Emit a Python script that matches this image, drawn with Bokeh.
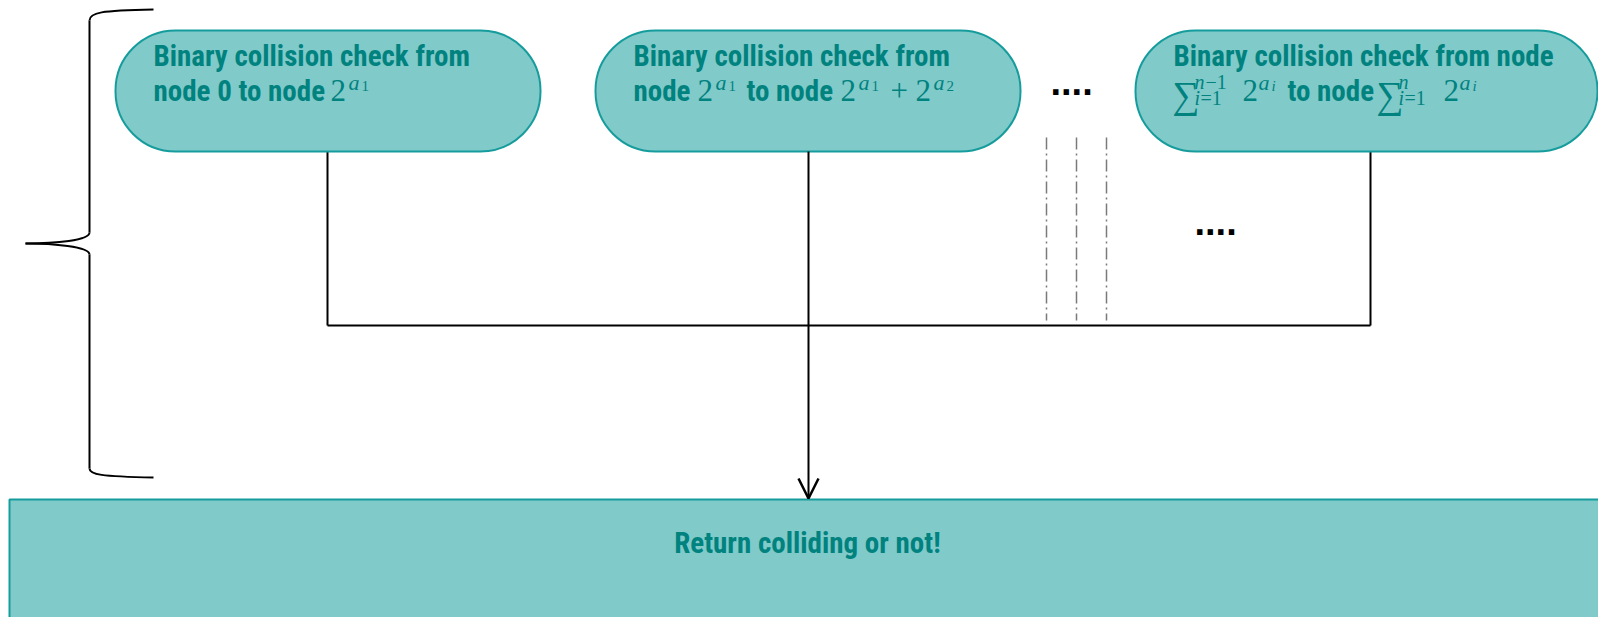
from bokeh.plotting import figure
from bokeh.models import Range1d, ColumnDataSource, Arrow, OpenHead
from bokeh.core.properties import value, field
from bokeh.embed import file_html
from bokeh.resources import INLINE

# ---- content ----
box_line1 = ["Binary collision check from", "Binary collision check from", "Binary collision check from node"]
box_line2_text = ["node 0 to node", "node", "to node", "to node"]
result_label = ["Return colliding or not!"]
ellipsis = ["....", "...."]

# math fragments (text, style)
math_text = ["2", "a", "1",
             "2", "a", "1", "2", "a", "1", "+", "2", "a", "2",
             "∑", "n", "−1", "i", "=1", "2", "a", "i",
             "∑", "n", "i", "=1", "2", "a", "i"]
math_style = ["normal", "italic", "normal",
              "normal", "italic", "normal", "normal", "italic", "normal", "normal", "normal", "italic", "normal",
              "normal", "italic", "normal", "italic", "normal", "normal", "italic", "italic",
              "normal", "italic", "italic", "normal", "normal", "italic", "italic"]

# ---- layout (screen pixels) ----
W, H = 1598, 617
TEAL_FILL = "#80CACA"
TEAL_LINE = "#169C9C"
TEAL_TEXT = "#00827F"
FONT = "Roboto Condensed, Liberation Sans Narrow, Arial Narrow, Roboto"
MATH_FONT = "Liberation Serif"
DY = -12  # baseline correction for text placement

box_left = [115, 595, 1135]
box_right = [540, 1020, 1597]
box_top, box_bottom = 30, 151
text_x1 = [153, 633, 1173]
base1, base2 = 67 + DY, 102 + DY

line2_x = [153, 633, 746, 1287]
math_x = [330, 348, 361,
          697, 715, 728, 840, 858, 871, 890, 915, 933, 946,
          1172, 1194, 1205, 1194, 1200, 1242, 1258, 1271,
          1376, 1398, 1398, 1404, 1443, 1459, 1472]
math_y = [102, 94, 97,
          102, 94, 97, 102, 94, 97, 102, 102, 94, 97,
          106, 93, 93, 109, 109, 102, 94, 97,
          106, 93, 109, 109, 102, 94, 97]
math_y = [v + DY for v in math_y]
math_size = ["31px", "22px", "15px",
             "31px", "22px", "15px", "31px", "22px", "15px", "31px", "31px", "22px", "15px",
             "38px", "20px", "20px", "20px", "20px", "31px", "22px", "15px",
             "38px", "20px", "20px", "20px", "31px", "22px", "15px"]

p = figure(width=W, height=H, x_range=Range1d(0, W), y_range=Range1d(H, 0),
           output_backend="svg", toolbar_location=None, min_border=0)
p.axis.visible = False
p.grid.visible = False
p.outline_line_color = None
p.background_fill_color = "white"

# left brace
bx = dict(line_color="black", line_width=2)
p.bezier(x0=[153, 89, 25, 89], y0=[9, 232, 243, 468],
         x1=[89, 25, 89, 153], y1=[20, 243, 254, 477],
         cx0=[100, 89, 52, 89], cy0=[10, 240, 243, 474],
         cx1=[89, 55, 89, 100], cy1=[12, 243, 246, 476], **bx)
p.segment(x0=[89, 89], y0=[20, 254], x1=[89, 89], y1=[232, 468], **bx)

# bottom result box
p.quad(left=[9], right=[W + 40], top=[499], bottom=[H + 40],
       fill_color=TEAL_FILL, line_color=TEAL_LINE, line_width=2)

# connectors
p.segment(x0=[327, 1370, 327], y0=[box_bottom, box_bottom, 325],
          x1=[327, 1370, 1370], y1=[325, 325, 325], line_color="black", line_width=2)
p.add_layout(Arrow(end=OpenHead(size=20, line_width=2.5, line_color="black"),
                   x_start=808, y_start=box_bottom, x_end=808, y_end=498,
                   line_color="black", line_width=2))

# dash-dot lines
p.segment(x0=[1046, 1076, 1106], y0=[137] * 3, x1=[1046, 1076, 1106], y1=[320] * 3,
          line_color="#7A7A7A", line_width=1.5, line_dash="12 4 2 4")

# top boxes (stadium shape)
p.quad(left=box_left, right=box_right, top=[box_top] * 3, bottom=[box_bottom] * 3,
       fill_color=TEAL_FILL, line_color=TEAL_LINE, line_width=2, border_radius=60)

# texts
tkw = dict(text_font=value(FONT), text_font_style="bold", text_font_size=value("29px"),
           text_color=TEAL_TEXT, text_baseline="alphabetic")
p.text(x=text_x1, y=[base1] * 3, text=box_line1, text_align="left", **tkw)
p.text(x=line2_x, y=[base2] * 4, text=box_line2_text, text_align="left", **tkw)
p.text(x=[807], y=[554 + DY], text=result_label, text_align="center", **tkw)

msrc = ColumnDataSource(dict(x=math_x, y=math_y, text=math_text, size=math_size, style=math_style))
p.text(x="x", y="y", text="text", source=msrc, text_font=value(MATH_FONT),
       text_font_size=field("size"), text_font_style=field("style"),
       text_color=TEAL_TEXT, text_baseline="alphabetic", text_align="left")

p.text(x=[1050, 1194], y=[81, 221], text=ellipsis, text_font=value("Liberation Sans"),
       text_font_style="bold", text_font_size=value("38px"), text_color="black",
       text_baseline="alphabetic", text_align="left")

open("out.html", "w").write(file_html(p, INLINE))
